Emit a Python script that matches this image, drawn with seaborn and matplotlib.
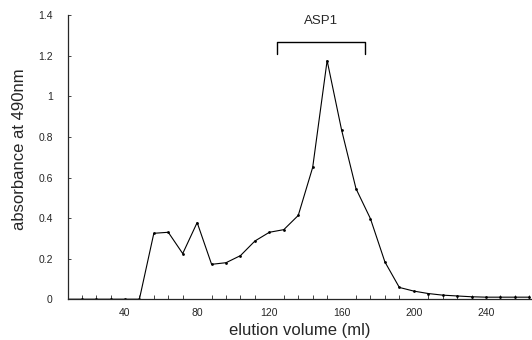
import pandas as pd
import seaborn as sns
import matplotlib.pyplot as plt
from matplotlib.ticker import MultipleLocator

# elution profile, fractions every 8 ml
elution_ml = [8, 16, 24, 32, 40, 48, 56, 64, 72, 80, 88, 96, 104, 112, 120, 128,
              136, 144, 152, 160, 168, 176, 184, 192, 200, 208, 216, 224, 232,
              240, 248, 256, 264]
absorbance = [0.0, 0.0, 0.0, 0.0, 0.0, 0.0, 0.325, 0.33, 0.225, 0.378, 0.172,
              0.18, 0.215, 0.287, 0.33, 0.343, 0.413, 0.65, 1.177, 0.835, 0.545,
              0.397, 0.184, 0.058, 0.04, 0.028, 0.02, 0.016, 0.012, 0.01, 0.01,
              0.01, 0.01]
x_ticks = [40, 80, 120, 160, 200, 240]
y_ticks = [0, 0.2, 0.4, 0.6, 0.8, 1.0, 1.2, 1.4]
y_labels = ['0', '0.2', '0.4', '0.6', '0.8', '1', '1.2', '1.4']

df = pd.DataFrame({'ml': elution_ml, 'abs': absorbance})

sns.set_style('ticks')
plt.rcParams['font.family'] = ['Liberation Sans', 'DejaVu Sans']

fig = plt.figure(figsize=(5.32, 3.4), dpi=100)
ax = fig.add_axes([0.128, 0.12, 0.872, 0.835])

sns.lineplot(data=df, x='ml', y='abs', ax=ax, color='black', linewidth=0.8,
             marker='o', markersize=2, markeredgewidth=0)

ax.set_xlim(8.5, 265.5)
ax.set_ylim(0, 1.4)
ax.set_xticks(x_ticks)
ax.xaxis.set_minor_locator(MultipleLocator(8))
ax.set_yticks(y_ticks)
ax.set_yticklabels(y_labels)
ax.tick_params(axis='x', which='major', length=0, labelsize=7.5, pad=6)
ax.tick_params(axis='x', which='minor', direction='in', length=3, width=0.6)
ax.tick_params(axis='y', direction='in', length=2, width=0.6, labelsize=7.5, pad=11)
for s in ['top', 'right']:
    ax.spines[s].set_visible(False)
for s in ['left', 'bottom']:
    ax.spines[s].set_linewidth(0.9)

ax.set_xlabel('elution volume (ml)', fontsize=12, labelpad=4)
ax.set_ylabel('absorbance at 490nm', fontsize=12)
ax.yaxis.set_label_coords(-0.088, 0.53)

# ASP1 pool bracket
ax.plot([124, 124, 173, 173], [1.21, 1.27, 1.27, 1.21], color='black', linewidth=1.0)
ax.text(148.5, 1.34, 'ASP1', ha='center', va='bottom', fontsize=9.5)

fig.savefig('out.png', dpi=100)
